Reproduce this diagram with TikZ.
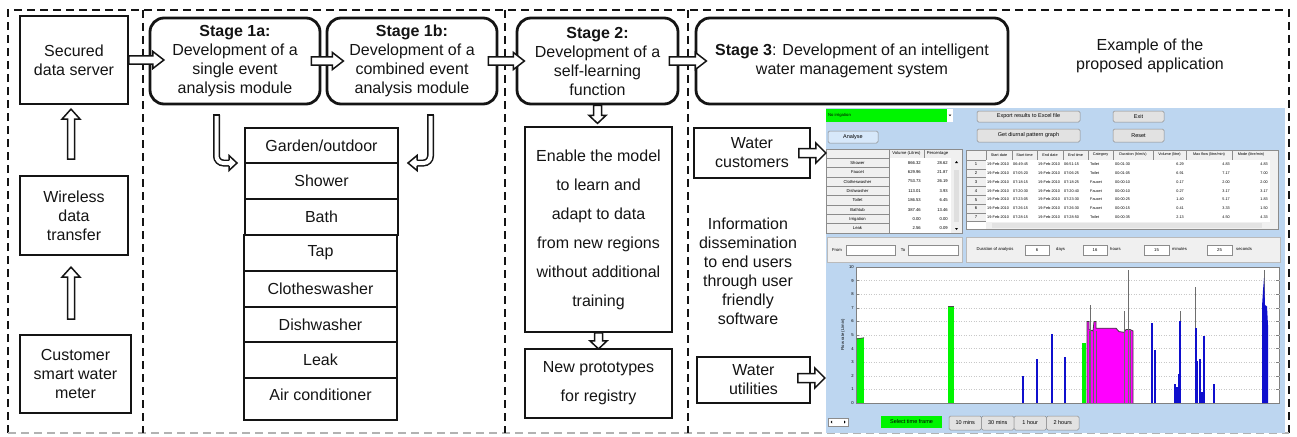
\documentclass[tikz,border=0pt]{standalone}
\usepackage{fontspec}
\setmainfont{Liberation Sans}
\usetikzlibrary{calc}
\definecolor{txt}{RGB}{20,20,20}
\definecolor{appblue}{RGB}{189,214,240}
\definecolor{btngray}{RGB}{226,226,226}
\definecolor{btnedge}{RGB}{140,140,140}
\definecolor{panelgray}{RGB}{240,240,240}
\definecolor{gridc}{RGB}{200,200,200}
\definecolor{limegreen}{RGB}{0,245,0}
\definecolor{barblue}{RGB}{15,15,205}
\definecolor{barmag}{RGB}{255,0,255}
\definecolor{spike}{RGB}{110,110,110}
\definecolor{anlblue}{RGB}{215,232,250}
\tikzset{
  mainfont/.style={font=\fontsize{16}{19}\selectfont},
  plainbox/.style={draw=txt, line width=1.8, align=center, inner sep=0, mainfont},
  stagebox/.style={draw=txt, line width=2.8, rounded corners=14, align=center, inner sep=0, mainfont},
  listrow/.style={draw=txt, line width=1.6, minimum width=153, inner sep=0, mainfont},
  freetext/.style={align=center, inner sep=0, mainfont},
  hollow/.style={draw=txt, line width=1.5, fill=white, line join=miter},
  bentshaft/.style={draw=txt, line width=1.5, double=white, double distance=4, rounded corners=7},
  frameline/.style={draw=txt, line width=2, dash pattern=on 8pt off 5pt},
  apptiny/.style={font=\fontsize{4.2}{5}\selectfont, inner sep=0, text=black},
  apptinier/.style={font=\fontsize{3.8}{4.5}\selectfont, inner sep=0, text=black},
  appsmall/.style={font=\fontsize{5.5}{6.5}\selectfont, inner sep=0, text=black},
  btn/.style={draw=btnedge, fill=btngray, line width=0.5, rounded corners=1.5, inner sep=0, appsmall},
  cellbox/.style={draw=gridc!70!black, line width=0.4},
  pics/harrow/.style n args={4}{code={\draw[hollow] (0,-#2) -- ({#1-#4},-#2) -- ({#1-#4},-#3) -- (#1,0) -- ({#1-#4},#3) -- ({#1-#4},#2) -- (0,#2) -- cycle;}}
}
\begin{document}
\begin{tikzpicture}[x=1pt,y=-1pt, every node/.style={text=txt}]
\useasboundingbox (0,0) rectangle (1297,436);

% ---------- dashed frame ----------
\draw[frameline] (8,433) -- (8,10) -- (1289,10) -- (1289,433);
\draw[frameline, draw=gray!60] (8,433) -- (1289,433);
\draw[frameline] (143,10) -- (143,433);
\draw[frameline] (505,10) -- (505,433);
\draw[frameline] (688,10) -- (688,433);

% ---------- left column ----------
\node[plainbox, minimum width=108, minimum height=88] (srv) at (74,60) {Secured\\data server};
\node[plainbox, minimum width=108, minimum height=79] (wls) at (74,215.5) {Wireless\\data\\transfer};
\node[plainbox, minimum width=111, minimum height=78] (mtr) at (75.5,374) {Customer\\smart water\\meter};
\pic[rotate=90] at ($(wls.north)+(-3,-16)$) {harrow={50}{3.5}{9}{10}};
\pic[rotate=90] at ($(mtr.north)+(-4.5,-15)$) {harrow={52}{3.5}{9}{10}};

% ---------- stage boxes ----------
\node[stagebox, minimum width=170, minimum height=86] (s1a) at (235,61) {\textbf{Stage 1a:}\\Development of a\\single event\\analysis module};
\node[stagebox, minimum width=170, minimum height=86] (s1b) at (412,61) {\textbf{Stage 1b:}\\Development of a\\combined event\\analysis module};
\node[stagebox, minimum width=161, minimum height=86] (s2) at (597.5,61) {\textbf{Stage 2:}\\Development of a\\self-learning\\function};
\node[stagebox, minimum width=312, minimum height=86] (s3) at (852,61) {\textbf{Stage 3}: Development of an intelligent\\water management system};
\node[freetext] (ex) at (1150,56) {Example of the\\proposed application};

\pic at (srv.east) {harrow={35}{4}{8.5}{11}};
\pic at ($(s1a.east)+(-10,0)$) {harrow={32}{4}{8.5}{11}};
\pic at ($(s1b.east)+(-10,0)$) {harrow={36}{4}{8.5}{11}};
\pic at ($(s2.east)+(-10,0)$) {harrow={37}{4}{8.5}{11}};

% ---------- list of end uses ----------
\node[listrow, minimum height=35] (r1) at (321.5,145.5) {Garden/outdoor};
\node[listrow, minimum height=36] (r2) at (321.5,181) {Shower};
\node[listrow, minimum height=36] (r3) at (321.5,217) {Bath};
\node[listrow, minimum height=36] (r4) at (320.5,253) {Tap};
\node[listrow, minimum height=36] (r5) at (320.5,289) {Clotheswasher};
\node[listrow, minimum height=35] (r6) at (320.5,324.5) {Dishwasher};
\node[listrow, minimum height=36] (r7) at (320.5,360) {Leak};
\node[listrow, minimum height=42, text depth=8] (r8) at (320.5,399) {Air conditioner};

% bent arrow from stage 1a
\coordinate (bla) at (216.5,115);
\coordinate (blb) at (216.5,163);
\coordinate (blc) at (230,163);
\draw[bentshaft] (bla) -- (blb) -- (blc);
\draw[txt, line width=1.5] (212.75,115) -- (220.25,115);
\fill[white] (229,155.5) -- (237,163) -- (229,170.5) -- cycle;
\draw[txt, line width=1.5, line join=miter] (229,160.25) -- (229,155.5) -- (237,163) -- (229,170.5) -- (229,165.75);
% bent arrow from stage 1b
\coordinate (bra) at (430.5,115);
\coordinate (brb) at (430.5,163);
\coordinate (brc) at (416,163);
\draw[bentshaft] (bra) -- (brb) -- (brc);
\draw[txt, line width=1.5] (426.75,115) -- (434.25,115);
\fill[white] (417,155.5) -- (408,163) -- (417,170.5) -- cycle;
\draw[txt, line width=1.5, line join=miter] (417,160.25) -- (417,155.5) -- (408,163) -- (417,170.5) -- (417,165.75);

% ---------- stage 2 column ----------
\node[plainbox, minimum width=147, minimum height=205, font=\fontsize{16}{29}\selectfont] (enb) at (598.5,229.5) {Enable the model\\to learn and\\adapt to data\\from new regions\\without additional\\training};
\node[plainbox, minimum width=147, minimum height=69, font=\fontsize{16}{29}\selectfont] (prt) at (598.5,383.5) {New prototypes\\for registry};
\pic[rotate=-90] at (s2.south) {harrow={18}{4}{8.5}{8}};
\pic[rotate=-90] at (enb.south) {harrow={16}{4}{8.5}{8}};

% ---------- stage 3 column ----------
\node[plainbox, minimum width=116, minimum height=50] (cst) at (752,153) {Water\\customers};
\node[plainbox, minimum width=113, minimum height=46] (utl) at (753.5,380) {Water\\utilities};
\node[freetext] (inf) at (748,271) {Information\\dissemination\\to end users\\through user\\friendly\\software};

% ---------- application screenshot ----------
\fill[appblue] (826,108) rectangle (1285,433);
\fill[limegreen] (826,109) rectangle (947,122);
\fill[white] (947,109) rectangle (953,122);
\fill[black] (948.7,114.5) -- (951.3,114.5) -- (950,116.2) -- cycle;
\node[apptiny, anchor=west] (ddt) at (828,115.5) {No irrigation};
\node[btn, fill=anlblue, minimum width=50, minimum height=12] (anl) at (853,137) {Analyse};
\node[btn, minimum width=103, minimum height=11] (exp) at (1028.5,116.5) {Export results to Excel file};
\node[btn, minimum width=51, minimum height=11] (ext) at (1138.5,116.5) {Exit};
\node[btn, minimum width=103, minimum height=13] (diu) at (1028.5,135.5) {Get diurnal pattern graph};
\node[btn, minimum width=51, minimum height=13] (rst) at (1138.5,135.5) {Reset};

% left table
\fill[white] (826,149) rectangle (962,233);
\fill[panelgray] (826,149) rectangle (951,158);
\draw[cellbox] (889,149) -- (889,158);
\draw[cellbox] (924,149) -- (924,158);
\node[apptiny] (lh1) at (906.5,153.5) {Volume (Litres)};
\node[apptiny] (lh2) at (937.5,153.5) {Percentage};
\foreach \lname/\lvol/\lpct [count=\k from 0] in {Shower/866.32/28.62, Faucet/629.96/21.87, Clotheswasher/753.73/26.19, Dishwasher/113.01/3.93, Toilet/186.53/6.45, Bathtub/387.46/13.46, Irrigation/0.00/0.00, Leak/2.56/0.09}{
  \pgfmathsetmacro\yt{158+9.375*\k}
  \draw[cellbox, fill=panelgray] (826,\yt) rectangle (889,\yt+9.375);
  \node[apptiny] (ln\k) at (857.5,\yt+4.8) {\lname};
  \node[apptiny, anchor=east] (lv\k) at (921,\yt+4.8) {\lvol};
  \node[apptiny, anchor=east] (lp\k) at (948,\yt+4.8) {\lpct};
}
\fill[panelgray] (951,149) rectangle (962,233);
\fill[gray!25] (954,170) rectangle (959,222);
\fill[black] (955,163) -- (958,163) -- (956.5,161) -- cycle;
\fill[black] (955,228) -- (958,228) -- (956.5,230) -- cycle;
\draw[cellbox] (826,149) rectangle (962,233);

% right table
\fill[white] (966,150) rectangle (1278,229);
\fill[panelgray] (966,150) rectangle (1278,160);
\fill[panelgray] (966,160) rectangle (986,222);
\foreach \xa/\xb/\hd [count=\k] in {986/1012/Start date, 1012/1037/Start time, 1037/1063/End date, 1063/1088/End time, 1088/1113/Category, 1113/1153/{Duration (h/m/s)}, 1153/1186/Volume (litre), 1186/1232/{Max flow (litre/min)}, 1232/1270/{Mode (litre/min)}}{
  \draw[cellbox] (\xa,150) -- (\xa,160);
  \node[apptinier] (th\k) at ({(\xa+\xb)/2},155) {\hd};
}
\foreach \k in {0,...,7}{\draw[cellbox] (966,160+8.8*\k) -- (986,160+8.8*\k);}
\foreach \rn/\rst/\ret/\rcat/\rdu/\rvo/\rmx/\rmo in {1/06:49:45/06:51:15/Toilet/00:01:30/6.29/4.83/4.83, 2/07:05:20/07:06:25/Toilet/00:01:05/6.91/7.17/7.00, 3/07:18:15/07:18:25/Faucet/00:00:10/0.17/2.00/2.00, 4/07:20:30/07:20:40/Faucet/00:00:10/0.27/3.17/3.17, 5/07:23:05/07:23:30/Faucet/00:00:25/1.40/5.17/1.83, 6/07:26:15/07:26:30/Faucet/00:00:15/0.41/3.33/1.50, 7/07:28:15/07:28:50/Toilet/00:00:35/2.13/4.50/4.33}{
  \pgfmathsetmacro\yc{160+8.8*(\rn-1)+4.4}
  \node[apptiny] (rnum\rn) at (976,\yc) {\rn};
  \node[apptinier, anchor=west] (rsd\rn) at (987,\yc) {19-Feb-2010};
  \node[apptinier, anchor=west] (rstm\rn) at (1013,\yc) {\rst};
  \node[apptinier, anchor=west] (red\rn) at (1038,\yc) {19-Feb-2010};
  \node[apptinier, anchor=west] (retm\rn) at (1064,\yc) {\ret};
  \node[apptinier, anchor=west] (rcat\rn) at (1090,\yc) {\rcat};
  \node[apptinier, anchor=west] (rdur\rn) at (1115,\yc) {\rdu};
  \node[apptinier, anchor=east] (rvol\rn) at (1184,\yc) {\rvo};
  \node[apptinier, anchor=east] (rmax\rn) at (1230,\yc) {\rmx};
  \node[apptinier, anchor=east] (rmod\rn) at (1268,\yc) {\rmo};
}
\fill[panelgray] (986,222) rectangle (1278,229);
\fill[gray!22] (992,223.3) rectangle (1262,227.7);
\fill[panelgray] (1270,160) rectangle (1278,222);
\draw[cellbox] (966,150) rectangle (1278,229);

% From / To panel
\draw[btnedge!60, fill=panelgray, line width=0.4] (827,237) rectangle (962,262);
\node[apptiny] (frm) at (837,250) {From};
\draw[cellbox, fill=white] (846,245.5) rectangle (895,255.5);
\node[apptiny] (tol) at (903,250) {To};
\draw[cellbox, fill=white] (908,245.5) rectangle (958,255.5);
% duration panel
\draw[btnedge!60, fill=panelgray, line width=0.4] (966,237) rectangle (1280,262);
\node[apptiny] (dur) at (995,249) {Duration of analysis};
\node[cellbox, fill=white, minimum width=24, minimum height=10, apptiny] (dd) at (1037,250) {6};
\node[apptiny, anchor=west] (ddl) at (1056,249) {days};
\node[cellbox, fill=white, minimum width=24, minimum height=10, apptiny] (dh) at (1095,250) {16};
\node[apptiny, anchor=west] (dhl) at (1110,249) {hours};
\node[cellbox, fill=white, minimum width=25, minimum height=10, apptiny] (dm) at (1156.5,250) {15};
\node[apptiny, anchor=west] (dml) at (1172,249) {minutes};
\node[cellbox, fill=white, minimum width=25, minimum height=10, apptiny] (ds) at (1219.5,250) {25};
\node[apptiny, anchor=west] (dsl) at (1236,249) {seconds};

% plot
\draw[gray, fill=white, line width=0.5] (856,267) rectangle (1279,403);
\foreach \v in {1,...,9}{
  \draw[gridc, dotted, line width=0.5] (856,403-13.6*\v) -- (1279,403-13.6*\v);
  \draw[gray, line width=0.4] (856,403-13.6*\v) -- (859,403-13.6*\v);
  \draw[gray, line width=0.4] (1276,403-13.6*\v) -- (1279,403-13.6*\v);
}
\foreach \v in {0,...,10}{\node[apptiny, anchor=east] (yl\v) at (854,403-13.6*\v) {\v};}
\node[apptiny, rotate=90] (ylab) at (843,335) {Flow rate (L/min)};
\begin{scope}[shift={(0,403)}, yscale=13.6]
  \fill[limegreen] (856.5,0) rectangle (864,-4.8);
  \draw[black!70, line width=0.8] (856.5,-4.7) -- (864,-4.8);
  \fill[limegreen] (948,0) rectangle (954,-7.1);
  \draw[black!70, line width=0.8] (948,-7.1) -- (954,-7.1);
  \fill[limegreen] (1082,0) rectangle (1085.5,-4.4);
  \fill[barmag] (1087,0) -- (1087,-6) -- (1089,-6) -- (1089,-5.4) -- (1093,-5.3) -- (1094,-6) -- (1096,-6) -- (1096,-5.5) -- (1116,-5.5) -- (1119,-5.25) -- (1124,-5.2) -- (1126,-5.4) -- (1130,-5.4) -- (1133,-5.3) -- (1133,0) -- cycle;
  \draw[black!75, line width=0.8] (1087,0) -- (1087,-6) -- (1089,-6) -- (1089,-5.4) -- (1093,-5.3) -- (1094,-6) -- (1096,-6) -- (1096,-5.5) -- (1116,-5.5) -- (1119,-5.25) -- (1124,-5.2) -- (1126,-5.4) -- (1130,-5.4) -- (1133,-5.3) -- (1133,0);
  \foreach \xm in {1089,1093,1096,1124,1130}{\draw[black!60, line width=0.5] (\xm,0) -- (\xm,-5.3);}
  \foreach \xb/\hb in {1090/7.2, 1124/6.8, 1128/9.8, 1195/8.5, 1180/6.8, 1264/9.8}{\draw[spike, line width=0.8] (\xb,0) -- (\xb,-\hb);}
  \foreach \xb/\hb in {1023/2.0, 1037/3.2, 1052/5.1, 1065/3.4, 1152/5.9, 1155/3.9, 1175/1.4, 1177/1.2, 1179/2.1, 1180/6.0, 1196/5.5, 1197/3.1, 1200/3.2, 1202/0.8, 1204/4.9, 1214/1.4}{\draw[barblue, line width=1.2] (\xb,0) -- (\xb,-\hb);}
  \fill[barblue] (1262,0) -- (1262,-7.1) -- (1263,-8.3) -- (1264,-9.2) -- (1265,-7.2) -- (1267,-7.1) -- (1268,-5.7) -- (1268,0) -- cycle;
\end{scope}

% bottom controls
\draw[cellbox, fill=white] (828,418) rectangle (848,426);
\fill[black] (832,420.5) -- (832,423.5) -- (830.5,422) -- cycle;
\fill[black] (844,420.5) -- (844,423.5) -- (845.5,422) -- cycle;
\node[fill=limegreen, minimum width=61, minimum height=12, appsmall] (stf) at (911.5,422) {Select time frame};
\foreach \lb [count=\k from 0] in {10 mins, 30 mins, 1 hour, 2 hours}{
  \node[btn, minimum width=32.5, minimum height=14] (tb\k) at (965.25+32.5*\k,423) {\lb};
}

% arrows into the application
\pic at ($(cst.east)+(-12,0)$) {harrow={27}{4.5}{10}{10}};
\pic at ($(utl.east)+(-13,-2)$) {harrow={27}{4.5}{10}{10}};
\end{tikzpicture}
\end{document}
